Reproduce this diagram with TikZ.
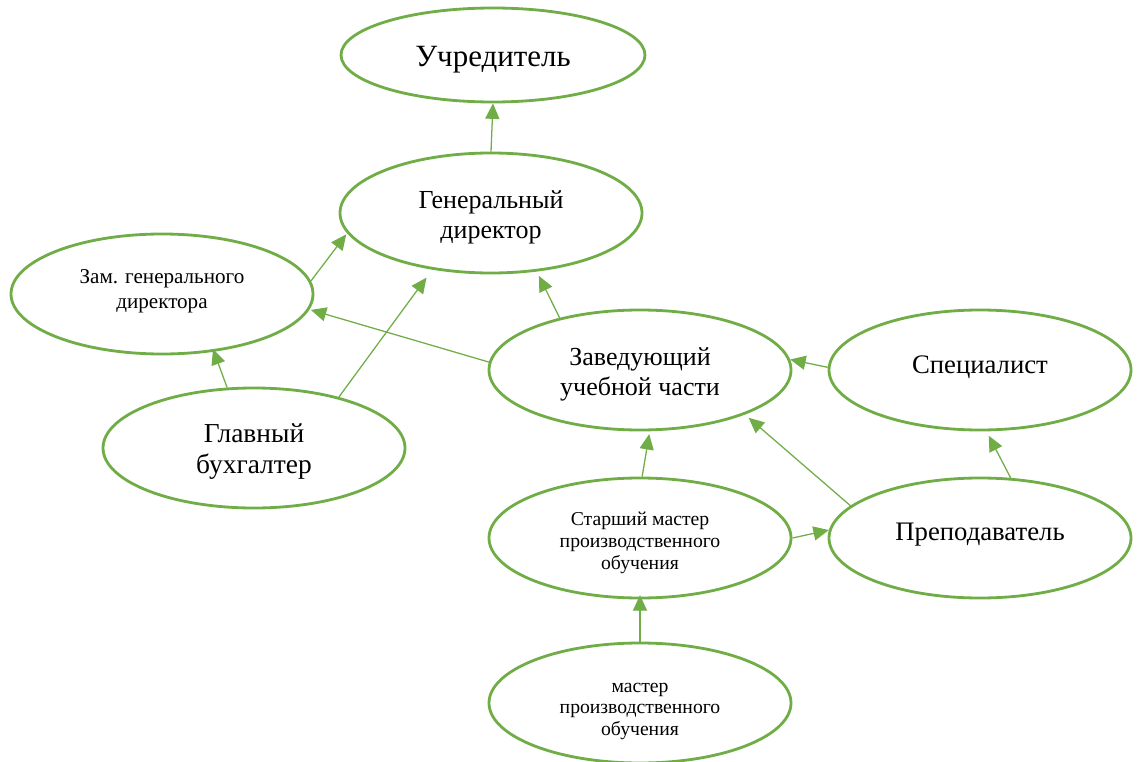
\documentclass[tikz,border=0pt]{standalone}
\usepackage{fontspec}
\setmainfont{Liberation Serif}
\usetikzlibrary{shapes.geometric, arrows.meta}

\definecolor{leaf}{HTML}{70AD47}

\tikzset{
    unit/.style={ellipse, draw=leaf, line width=2pt, inner sep=0pt,
        minimum width=7.55cm, minimum height=3cm},
    tag/.style={align=center, inner sep=0pt},
    link/.style={draw=leaf, line width=0.9pt,
        -{Triangle[length=11pt, width=10pt]}},
}

\begin{document}
\begin{tikzpicture}
    \useasboundingbox (0, 0) rectangle (28.45, -19.05);

    % Founder and director
    \node [unit, minimum width=7.6cm, minimum height=2.35cm] (uch) at (12.325, -1.375) {};
    \node [tag, font=\fontsize{22}{25}\selectfont] (uch-t) at ([yshift=-1.2mm] uch.center)
          {Учредитель};
    \node [unit] (gd) at (12.275, -5.325) {};
    \node [tag, font=\fontsize{18.5}{21.3}\selectfont] (gd-t) at ([yshift=-1mm] gd.center)
          {Генеральный\\директор};

    % Deputy and accountant
    \node [unit] (zam) at (4.05, -7.35) {};
    \node [tag, font=\fontsize{15}{17.6}\selectfont] (zam-t) at ([yshift=0.6mm] zam.center)
          {Зам. генерального\\директора};
    \node [unit] (glav) at (6.35, -11.2) {};
    \node [tag, font=\fontsize{19.5}{22.7}\selectfont] (glav-t) at ([yshift=-0.9mm] glav.center)
          {Главный\\бухгалтер};

    % Study department
    \node [unit] (zav) at (16, -9.25) {};
    \node [tag, font=\fontsize{18.5}{21.3}\selectfont] (zav-t) at ([yshift=-1mm] zav.center)
          {Заведующий\\учебной части};
    \node [unit] (spec) at (24.5, -9.25) {};
    \node [tag, font=\fontsize{19}{22}\selectfont] (spec-t) at ([yshift=0.75mm] spec.center)
          {Специалист};
    \node [unit] (prep) at (24.5, -13.45) {};
    \node [tag, font=\fontsize{19}{22}\selectfont] (prep-t) at ([yshift=0.75mm] prep.center)
          {Преподаватель};

    % Masters
    \node [unit] (stm) at (16, -13.45) {};
    \node [tag, font=\fontsize{14}{15.7}\selectfont] (stm-t) at ([yshift=-1.25mm] stm.center)
          {Старший мастер\\производственного\\обучения};
    \node [unit] (mas) at (16, -17.575) {};
    \node [tag, font=\fontsize{14}{15.3}\selectfont] (mas-t) at ([yshift=-2mm] mas.center)
          {мастер\\производственного\\обучения};

    % Edges to the top
    \draw [link] (gd.north) -- (uch.south);
    \draw [link, shorten >=1pt] (zam.5) -- (gd.188);
    \draw [link, shorten >=7pt] (glav.31) -- (gd.224);
    \draw [link, shorten >=3.5pt] (zav.147) -- (gd.308);

    % Edges to the deputy
    \draw [link, shorten >=1pt] (zav.177) -- (zam.354);
    \draw [link, shorten >=-2pt] (glav.114) -- (zam.312);

    % Edges to the study department
    \draw [link] (spec.179) -- (zav.4);
    \draw [link, shorten >=2pt] (stm.88) -- (zav.279);
    \draw [link, shorten <=-1.5pt, shorten >=3.5pt] (prep.166) -- (zav.337);

    % Remaining edges
    \draw [link, shorten >=3.5pt] (prep.63) -- (spec.276);
    \draw [link] (stm.0) -- (prep.177);
    \draw [link, shorten >=-3pt] (mas.north) -- (stm.south);
\end{tikzpicture}
\end{document}
